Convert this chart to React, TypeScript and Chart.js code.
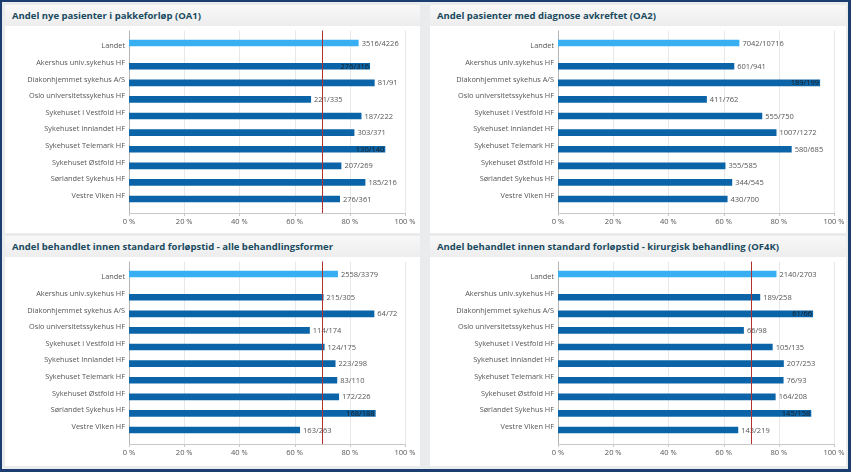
import React, { useEffect, useRef } from 'react';
import { Chart, registerables } from 'chart.js';

Chart.register(...registerables);

// ---------- DATA ----------
const categories = [
  'Landet',
  'Akershus univ.sykehus HF',
  'Diakonhjemmet sykehus A/S',
  'Oslo universitetssykehus HF',
  'Sykehuset i Vestfold HF',
  'Sykehuset Innlandet HF',
  'Sykehuset Telemark HF',
  'Sykehuset Østfold HF',
  'Sørlandet Sykehus HF',
  'Vestre Viken HF',
];

const xTickValues = [0, 20, 40, 60, 80, 100];

const oa1Title = 'Andel nye pasienter i pakkeforløp (OA1)';
const oa1Values = [83.2, 87.34, 89.01, 65.97, 84.23, 81.67, 92.86, 76.95, 85.65, 76.45];
const oa1Labels = ['3516/4226', '276/316', '81/91', '221/335', '187/222', '303/371', '130/140', '207/269', '185/216', '276/361'];
const oa1Target = 70;

const oa2Title = 'Andel pasienter med diagnose avkreftet (OA2)';
const oa2Values = [65.72, 63.87, 94.97, 53.94, 74.0, 79.17, 84.67, 60.68, 63.12, 61.43];
const oa2Labels = ['7042/10716', '601/941', '189/199', '411/762', '555/750', '1007/1272', '580/685', '355/585', '344/545', '430/700'];
const oa2Target: number | null = null;

const allTitle = 'Andel behandlet innen standard forløpstid - alle behandlingsformer';
const allValues = [75.7, 70.49, 88.89, 65.52, 70.86, 74.83, 75.45, 76.11, 89.36, 61.98];
const allLabels = ['2558/3379', '215/305', '64/72', '114/174', '124/175', '223/298', '83/110', '172/226', '168/188', '163/263'];
const allTarget = 70;

const of4kTitle = 'Andel behandlet innen standard forløpstid - kirurgisk behandling (OF4K)';
const of4kValues = [79.17, 73.26, 92.42, 67.35, 77.78, 81.82, 81.72, 78.85, 91.77, 65.3];
const of4kLabels = ['2140/2703', '189/258', '61/66', '66/98', '105/135', '207/253', '76/93', '164/208', '145/158', '143/219'];
const of4kTarget = 70;

// ---------- STYLE ----------
const DARK = '#0b64a7';
const LIGHT = '#38aff3';
const FONT = '"Open Sans", "Liberation Sans", sans-serif';
const SMALL = 7.5;
const CAT = 7.35;

type PanelProps = {
  title: string;
  values: number[];
  labels: string[];
  target: number | null;
  left: number;
  top: number;
  width: number;
  height: number;
  axisLeft: number;
  axisRight: number;
  areaTop: number;
  areaBottom: number;
};

function BarPanel(p: PanelProps) {
  const ref = useRef<HTMLCanvasElement | null>(null);
  const bodyH = p.height - 21;

  useEffect(() => {
    if (!ref.current) return;
    const landetData = p.values.map((v, i) => (i === 0 ? v : null));
    const hfData = p.values.map((v, i) => (i === 0 ? null : v));
    const extTop = 7.5;
    const extBottom = 9;

    const linesPlugin = {
      id: 'lines',
      beforeDatasetsDraw(chart: any) {
        const { ctx, chartArea } = chart;
        const xs = chart.scales.x;
        const y0 = chartArea.top - extTop;
        const y1 = chartArea.bottom + extBottom;
        ctx.save();
        ctx.lineWidth = 1;
        xTickValues.forEach((t) => {
          const x = Math.round(xs.getPixelForValue(t)) + 0.5;
          ctx.strokeStyle = t === 0 ? '#b4b4b4' : '#e8e8e8';
          ctx.beginPath();
          ctx.moveTo(x, y0);
          ctx.lineTo(x, y1);
          ctx.stroke();
          ctx.strokeStyle = '#c8c8c8';
          ctx.beginPath();
          ctx.moveTo(x, y1);
          ctx.lineTo(x, y1 + 3);
          ctx.stroke();
        });
        ctx.strokeStyle = '#c8c8c8';
        ctx.beginPath();
        ctx.moveTo(xs.getPixelForValue(0), Math.round(y1) + 0.5);
        ctx.lineTo(xs.getPixelForValue(100) + 1, Math.round(y1) + 0.5);
        ctx.stroke();
        ctx.restore();
      },
      afterDatasetsDraw(chart: any) {
        const { ctx, chartArea } = chart;
        ctx.save();
        ctx.font = `${SMALL}px ${FONT}`;
        ctx.textBaseline = 'middle';
        chart.data.datasets.forEach((ds: any, di: number) => {
          const meta = chart.getDatasetMeta(di);
          meta.data.forEach((el: any, i: number) => {
            if (ds.data[i] == null) return;
            const txt = p.labels[i];
            const w = ctx.measureText(txt).width;
            const endX = el.x;
            const y = el.y + 0.5;
            if (endX + 3 + w + 4.5 > chartArea.right) {
              ctx.fillStyle = '#1c1c1c';
              ctx.textAlign = 'right';
              ctx.fillText(txt, endX - 1, y);
            } else {
              ctx.fillStyle = '#555555';
              ctx.textAlign = 'left';
              ctx.fillText(txt, endX + 3, y);
            }
          });
        });
        if (p.target != null) {
          const xs = chart.scales.x;
          const x = Math.round(xs.getPixelForValue(p.target)) + 0.5;
          ctx.strokeStyle = '#b0312f';
          ctx.lineWidth = 1;
          ctx.beginPath();
          ctx.moveTo(x, chartArea.top - extTop);
          ctx.lineTo(x, chartArea.bottom + extBottom);
          ctx.stroke();
        }
        ctx.restore();
      },
    };

    const chart = new Chart(ref.current, {
      type: 'bar',
      data: {
        labels: categories,
        datasets: [
          {
            data: landetData,
            backgroundColor: LIGHT,
            categoryPercentage: 0.8,
            barPercentage: 1.0,
          },
          {
            data: hfData,
            backgroundColor: DARK,
            categoryPercentage: 0.8,
            barPercentage: 1.0,
          },
        ],
      },
      options: {
        indexAxis: 'y',
        animation: false,
        responsive: false,
        maintainAspectRatio: false,
        layout: {
          padding: { top: p.areaTop, right: p.width - p.axisRight, left: 0, bottom: 0 },
        },
        plugins: {
          legend: { display: false },
          tooltip: { enabled: false },
          title: { display: false },
        },
        scales: {
          y: {
            type: 'category',
            offset: true,
            grid: { display: false, drawTicks: false },
            border: { display: false },
            ticks: {
              autoSkip: false,
              color: '#555555',
              padding: 4,
              font: { family: FONT, size: CAT },
            },
            afterFit(scale: any) {
              scale.width = p.axisLeft;
            },
          },
          x: {
            type: 'linear',
            min: 0,
            max: 100,
            grid: { display: false, drawTicks: true, tickLength: 13 },
            border: { display: false },
            ticks: {
              stepSize: 20,
              color: '#555555',
              padding: 0,
              font: { family: FONT, size: SMALL },
              callback: (v: any) => `${v} %`,
            },
            afterFit(scale: any) {
              scale.height = bodyH - p.areaBottom;
            },
          },
        },
      },
      plugins: [linesPlugin],
    });
    return () => chart.destroy();
  }, []);

  return (
    <div
      style={{
        position: 'absolute',
        left: p.left,
        top: p.top,
        width: p.width,
        height: p.height,
        background: '#ffffff',
      }}
    >
      <div
        style={{
          height: 21,
          background: 'linear-gradient(#f8f8f8, #ededed)',
          color: '#1a4a60',
          font: `bold 9.5px ${FONT}`,
          lineHeight: '22px',
          paddingLeft: 7,
          whiteSpace: 'nowrap',
          boxSizing: 'border-box',
        }}
      >
        {p.title}
      </div>
      <canvas ref={ref} width={p.width} height={bodyH} style={{ display: 'block', width: p.width, height: bodyH }} />
    </div>
  );
}

export default function App() {
  return (
    <div
      style={{
        position: 'fixed',
        left: 0,
        top: 0,
        width: 851,
        height: 472,
        background: '#1c3d70',
        overflow: 'hidden',
      }}
    >
      <div
        style={{
          position: 'absolute',
          left: 2,
          top: 2,
          width: 846,
          height: 467,
          background: '#e9ebed',
        }}
      />
      <BarPanel title={oa1Title} values={oa1Values} labels={oa1Labels} target={oa1Target}
        left={5} top={5} width={415} height={228} axisLeft={124} axisRight={400} areaTop={12} areaBottom={178} />
      <BarPanel title={oa2Title} values={oa2Values} labels={oa2Labels} target={oa2Target}
        left={430} top={5} width={416} height={228} axisLeft={128} axisRight={404} areaTop={12} areaBottom={178} />
      <BarPanel title={allTitle} values={allValues} labels={allLabels} target={allTarget}
        left={5} top={236} width={415} height={230} axisLeft={124} axisRight={400} areaTop={12} areaBottom={178} />
      <BarPanel title={of4kTitle} values={of4kValues} labels={of4kLabels} target={of4kTarget}
        left={430} top={236} width={416} height={230} axisLeft={128} axisRight={404} areaTop={12} areaBottom={178} />
    </div>
  );
}
